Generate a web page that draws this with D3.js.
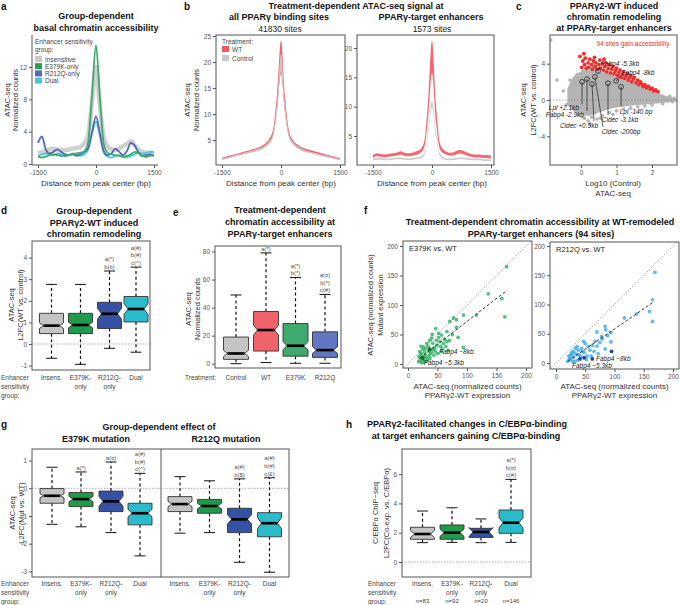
<!DOCTYPE html>
<html><head><meta charset="utf-8">
<script src="https://cdn.jsdelivr.net/npm/d3@7"></script>
<style>body{margin:0;background:#fff}svg{display:block}</style>
</head><body><svg id="c" width="680" height="605"></svg>
<script>
// ---------- DATA ----------
const bp = [-1500,-1400,-1300,-1200,-1100,-1000,-900,-800,-700,-600,-500,-400,-300,-200,-100,0,100,200,300,400,500,600,700,800,900,1000,1100,1200,1300,1400,1500];
const aInsens = [1.3,1.5,1.6,1.8,1.9,1.8,1.7,1.7,1.8,1.9,2.0,2.1,2.6,3.6,7.8,12.0,7.2,3.3,2.2,1.8,1.7,1.9,2.2,2.5,2.8,2.3,1.8,1.5,1.4,1.4,1.3];
const aE379K = [0.9,0.8,0.9,1.1,1.2,1.1,1.0,1.0,1.1,1.2,1.3,1.4,1.6,2.8,8.8,14.7,8.2,2.5,1.4,1.2,1.1,1.0,0.9,1.0,1.2,1.5,1.3,1.0,0.9,1.0,1.1];
const aR212Q = [2.6,3.4,1.8,1.3,1.5,1.8,1.5,1.2,1.1,1.2,1.0,1.2,1.5,2.0,4.0,5.9,3.8,1.6,1.1,1.3,1.9,1.5,1.1,1.6,2.6,2.3,1.4,1.0,1.1,1.2,1.0];
const aDual = [1.0,1.2,1.3,1.2,1.1,1.3,1.2,1.0,1.1,1.3,1.2,1.0,1.2,1.8,3.8,5.2,3.5,1.4,0.9,0.8,1.0,1.1,0.9,0.8,1.0,1.2,1.4,1.3,1.4,1.5,1.5];
const aGroups = ["Insensitive","E379K-only","R212Q-only","Dual"];

const bAllWT = [1.4,1.6,1.8,2.0,2.2,2.4,2.6,2.8,3.0,3.2,3.5,4.0,4.8,6.5,12.5,21.0,12.0,6.3,4.6,3.9,3.4,3.1,2.9,2.7,2.5,2.3,2.1,1.9,1.7,1.5,1.4];
const bAllWTsd = [0.2,0.2,0.2,0.2,0.2,0.25,0.25,0.25,0.25,0.3,0.3,0.35,0.4,0.6,1.6,3.2,1.6,0.6,0.4,0.35,0.3,0.3,0.25,0.25,0.25,0.25,0.2,0.2,0.2,0.2,0.2];
const bAllCtl = [1.3,1.5,1.7,1.9,2.1,2.3,2.5,2.7,2.9,3.1,3.3,3.8,4.5,6.0,11.5,19.8,11.2,5.9,4.4,3.7,3.2,2.9,2.7,2.5,2.3,2.1,1.9,1.8,1.6,1.4,1.3];
const bAllCtlsd = [0.15,0.15,0.15,0.15,0.15,0.15,0.15,0.15,0.15,0.2,0.2,0.2,0.25,0.4,0.9,1.8,0.9,0.4,0.25,0.2,0.2,0.2,0.15,0.15,0.15,0.15,0.15,0.15,0.15,0.15,0.15];
const bTgtWT = [1.5,1.8,1.7,1.6,1.7,1.8,1.9,2.1,1.9,1.8,1.9,2.1,2.4,3.5,9.5,18.5,9.0,3.3,2.3,2.0,1.9,2.1,2.3,2.2,1.9,1.7,1.6,1.6,1.5,1.5,1.4];
const bTgtWTsd = [0.25,0.25,0.25,0.25,0.25,0.25,0.25,0.3,0.25,0.25,0.25,0.3,0.3,0.5,1.5,2.8,1.5,0.5,0.3,0.25,0.25,0.3,0.3,0.3,0.25,0.25,0.25,0.25,0.25,0.25,0.25];
const bTgtCtl = [1.0,1.1,1.1,1.0,1.0,1.1,1.2,1.2,1.1,1.0,1.1,1.2,1.3,1.8,5.5,10.4,5.3,1.8,1.2,1.0,1.0,1.1,1.2,1.2,1.1,1.0,1.0,1.0,0.9,0.9,0.9];
const bTgtCtlsd = [0.15,0.15,0.15,0.15,0.15,0.15,0.15,0.15,0.15,0.15,0.15,0.15,0.15,0.2,0.4,0.6,0.4,0.2,0.15,0.15,0.15,0.15,0.15,0.15,0.15,0.15,0.15,0.15,0.15,0.15,0.15];

const cCloudX = [-0.35,-0.2,0,0.2,0.4,0.6,0.8,1.0,1.2,1.4,1.6,1.8,2.0,2.2,2.4,2.6,2.72];
const cCloudHi = [1.2,2.4,3.0,3.2,3.2,3.0,2.8,2.5,2.2,1.85,1.5,1.2,0.85,0.55,0.3,0.12,0];
const cCloudLo = [-0.5,-1.1,-1.5,-1.6,-1.4,-1.1,-0.85,-0.7,-0.6,-0.5,-0.42,-0.36,-0.3,-0.22,-0.15,-0.08,0];
const cGray = [[-0.85,6.6],[-0.68,2.2],[-0.31,2.2],[-0.5,1.0],[-0.4,-0.5],[-0.25,1.6],[-0.2,-0.9],[-0.1,2.8],[-0.05,-1.6],[0.05,3.2],[0.1,-2.0],[0.2,-2.3],[0.3,-1.9],[0.15,3.5],[0.35,3.6],[0.45,-2.1],[0.6,-1.7],[0.7,3.2],[0.8,-1.4],[1.0,-1.2],[1.2,-1.0],[1.4,-0.9],[1.6,-0.75],[1.8,-0.65],[2.0,-0.55],[2.3,-0.4],[2.5,0.4],[2.58,-0.2],[1.3,2.4],[1.7,1.6],[2.1,0.9],[-0.15,-1.2],[2.45,0.1],[-0.3,0.3],[0.05,-1.9],[0.25,-2.6],[0.55,-2.0],[0.9,-1.6],[2.7,-0.05],[2.62,0.2]];
const cRed = [[-0.03,4.8],[0.02,3.6],[0.05,4.3],[0.1,3.9],[0.12,4.6],[0.15,3.5],[0.2,4.1],[0.22,3.6],[0.25,4.5],[0.3,3.9],[0.32,3.4],[0.35,4.3],[0.4,3.7],[0.42,4.1],[0.45,3.4],[0.5,3.9],[0.53,4.4],[0.55,3.5],[0.6,4.0],[0.63,3.3],[0.67,3.7],[0.7,4.1],[0.73,3.1],[0.77,3.5],[0.8,3.9],[0.83,3.0],[0.87,3.4],[0.9,3.7],[0.93,2.9],[0.97,3.2],[1.0,3.5],[1.03,2.7],[1.07,3.0],[1.1,3.3],[1.13,2.5],[1.17,2.8],[1.2,3.1],[1.23,2.4],[1.27,2.7],[1.3,2.9],[1.33,2.2],[1.37,2.5],[1.4,2.7],[1.43,2.0],[1.47,2.3],[1.5,2.5],[1.55,1.9],[1.6,2.2],[1.63,1.7],[1.67,2.0],[1.7,1.8],[1.75,1.5],[1.8,1.7],[1.85,1.35],[1.9,1.5],[1.95,1.2],[2.0,1.3],[2.05,1.0],[2.1,1.1],[2.17,0.9],[0.08,5.1],[0.38,4.7],[0.65,4.5]];
const cGeneNames = ["Lpl +2.1kb","Fabp4 -2.9kb","Cidec +0.9kb","Cidec -200bp","Cidec -3.1kb","Lpl -140 bp","Fabp4 -5.3kb","Fabp4 -8kb"];
const cGeneX = [0.03,0.17,0.31,0.39,0.76,1.13,0.48,0.99];
const cGeneY = [2.0,2.3,1.75,2.55,1.85,1.45,3.2,2.1];

const grpLabels = [["Insens."],["E379K-","only"],["R212Q-","only"],["Dual"]];
const dHi = [2.76,2.76,3.38,3.56];
const dQ3 = [1.42,1.42,1.93,2.2];
const dMed = [0.85,0.88,1.40,1.62];
const dQ1 = [0.48,0.48,0.72,1.02];
const dLo = [-0.66,-0.94,-0.2,-0.38];
const dNotch = [0.13,0.13,0.25,0.25];
const dSig = [[],[],["a(*)","b(¤)"],["a(#)","b(#)","c(^)"]];

const eCats = ["Control","WT","E379K","R212Q"];
const eHi = [49,79,61.5,49.4];
const eQ3 = [19,37.2,28.6,22.7];
const eMed = [7.3,24,12.8,9.7];
const eQ1 = [3.1,9,5.4,4.5];
const eLo = [0,0.8,0.3,0.3];
const eNotch = [2.3,3.5,3.0,2.4];
const eSig = [[],["a(*)"],["a(*)","b(*)"],["a(¤)","b(*)","c(#)"]];

const fE379K = [[167,165],[136,119],[159,111],[164,80],[116,83],[94,83],[77,78],[82,75],[82,62],[71,72],[57,49],[66,55],[54,38],[40,44],[49,32],[66,38],[94,28],[32,35],[26,29],[43,25],[57,21],[68,23],[20,21],[23,15],[20,10],[26,7],[18,4],[22,18],[25,12],[28,20],[30,15],[24,8],[21,5],[27,3],[32,10],[35,22],[38,18],[30,26],[34,30],[42,35],[45,28],[48,40],[52,45],[55,30],[60,35],[62,42],[28,12],[33,6],[36,14],[40,20],[44,15],[25,25],[22,30],[19,13],[23,2],[30,5],[37,9],[46,22],[50,18],[58,26],[64,30],[70,40],[75,50],[85,45],[52,52],[47,60],[37,40],[41,50]];
const fE379Kdark = [[37,25],[25,10]];
const fR212Q = [[169,155],[165,108],[160,88],[165,71],[138,84],[117,77],[84,63],[85,57],[70,53],[94,52],[78,45],[79,41],[94,36],[47,37],[67,37],[70,29],[55,28],[84,24],[58,22],[44,25],[72,16],[53,12],[35,15],[30,10],[28,20],[25,5],[22,12],[38,22],[32,3],[26,16],[20,3],[36,28],[48,18],[62,30],[50,33],[40,14],[45,20],[33,25],[24,9],[29,2],[37,5],[52,6],[60,12],[65,20],[75,35],[88,47],[27,14],[31,18],[23,7],[42,11]];
const fR212Qdark = [[95,20],[62,7],[41,7],[48,9]];
const fFitE379K = [[20,10],[168,125]];
const fFitR212Q = [[20,3],[165,103]];

const gE_Hi = [0.76,0.59,0.95,0.54];
const gE_Q3 = [-0.01,-0.15,-0.1,-0.54];
const gE_Med = [-0.27,-0.39,-0.47,-0.9];
const gE_Q1 = [-0.54,-0.66,-0.84,-1.32];
const gE_Lo = [-1.3,-1.39,-1.6,-2.44];
const gE_Notch = [0.07,0.1,0.18,0.14];
const gE_Sig = [[],["a(*)"],["a(¤)"],["a(#)","b(#)","c(^)"]];
const gR_Hi = [0.42,0.27,0.34,0.38];
const gR_Q3 = [-0.3,-0.4,-0.72,-0.88];
const gR_Med = [-0.57,-0.64,-1.12,-1.26];
const gR_Q1 = [-0.84,-0.9,-1.6,-1.75];
const gR_Lo = [-1.62,-1.6,-2.67,-3.03];
const gR_Notch = [0.1,0.1,0.17,0.2];
const gR_Sig = [[],[],["a(#)","b($)"],["a(#)","b(#)","c(£)"]];

const hHi = [3.48,3.7,2.94,5.64];
const hQ3 = [2.37,2.53,2.3,3.55];
const hMed = [1.91,2.0,2.05,2.68];
const hQ1 = [1.55,1.55,1.68,1.96];
const hLo = [1.32,1.34,1.32,1.34];
const hNotch = [0.25,0.25,0.3,0.35];
const hN = ["n=83","n=92","n=20","n=146"];
const hSig = [[],[],[],["a(*)","b(¤)","c(#)"]];

// ---------- HELPERS ----------
const F = '"Liberation Sans", Arial, Helvetica, sans-serif';
const svg = d3.select('#c').attr('font-family', F);
const C = {gray:'#c4c4c4', green:'#1f9a4b', blue:'#3551a6', cyan:'#2bbccb', red:'#f0636b',
  egreen:'#3faa6d', eblue:'#6277c3'};

function T(g,x,y,s,o={}){
  const e=g.append('text').attr('x',x).attr('y',y).text(s)
    .attr('font-size',o.size||6.5).attr('fill',o.fill||'#333')
    .attr('text-anchor',o.anchor||'middle').attr('dominant-baseline','central');
  if(o.weight) e.attr('font-weight',o.weight);
  if(o.italic) e.attr('font-style','italic');
  if(o.rot) e.attr('transform',`rotate(-90,${x},${y})`);
  return e;
}
function frame(g,x0,y0,x1,y1){
  g.append('rect').attr('x',x0).attr('y',y0).attr('width',x1-x0).attr('height',y1-y0)
   .attr('fill','none').attr('stroke','#555').attr('stroke-width',1);
}
function sty(a){
  a.select('.domain').remove();
  a.attr('font-family',F).attr('font-size',6.5);
  a.selectAll('line').attr('stroke','#555');
  a.selectAll('text').attr('fill','#555');
}
function axL(g,s,ticks,x){ const a=g.append('g').attr('transform',`translate(${x},0)`).call(d3.axisLeft(s).tickValues(ticks).tickSize(3).tickPadding(2).tickFormat(d=>String(d))); sty(a); }
function axB(g,s,ticks,y){ const a=g.append('g').attr('transform',`translate(0,${y})`).call(d3.axisBottom(s).tickValues(ticks).tickSize(3).tickPadding(2).tickFormat(d=>String(d))); sty(a); }
function hdash(g,x0,x1,y){ g.append('line').attr('x1',x0).attr('x2',x1).attr('y1',y).attr('y2',y).attr('stroke','#888').attr('stroke-width',0.7).attr('stroke-dasharray','1.5,1.5'); }
function letter(x,y,s){ T(svg,x,y,s,{size:10,weight:'bold',anchor:'start',fill:'#111'}); }
function title(x,ys,lines){ lines.forEach((l,i)=>T(svg,x,ys[i],l,{size:9,weight:'bold',fill:'#111'})); }

function boxes(g,xs,y,lo,q1,med,q3,hi,notch,cols,w,sig){
  xs.forEach((x,i)=>{
    const hw=w/2, ins=4;
    const dl=(a,b)=>g.append('line').attr('x1',x).attr('x2',x).attr('y1',y(a)).attr('y2',y(b))
      .attr('stroke','#111').attr('stroke-width',1.2).attr('stroke-dasharray','3,2.6');
    dl(q3[i],hi[i]); dl(q1[i],lo[i]);
    [hi[i],lo[i]].forEach(v=>g.append('line').attr('x1',x-5.5).attr('x2',x+5.5).attr('y1',y(v)).attr('y2',y(v)).attr('stroke','#111').attr('stroke-width',1));
    const nh=y(med[i]+notch[i]), nl=y(med[i]-notch[i]), m=y(med[i]);
    const pts=[[x-hw,y(q3[i])],[x+hw,y(q3[i])],[x+hw,nh],[x+hw-ins,m],[x+hw,nl],[x+hw,y(q1[i])],
      [x-hw,y(q1[i])],[x-hw,nl],[x-hw+ins,m],[x-hw,nh]];
    g.append('path').attr('d','M'+pts.map(p=>p.join(',')).join('L')+'Z')
      .attr('fill',cols[i]).attr('stroke','#333').attr('stroke-width',0.9);
    g.append('line').attr('x1',x-hw+ins).attr('x2',x+hw-ins).attr('y1',m).attr('y2',m).attr('stroke','#000').attr('stroke-width',2.6);
    const s=sig[i]; const top=y(hi[i]);
    s.forEach((t,j)=>T(g,x,top-4-(s.length-1-j)*7.8,t,{size:6,fill:'#555'}));
  });
}

// ---------- PANEL A ----------
{
  const g=svg.append('g');
  letter(1,6,'a');
  title(96,[16,27.5],['Group-dependent','basal chromatin accessibility']);
  const x=d3.scaleLinear().domain([-1500,1500]).range([38,154]);
  const y=d3.scaleLinear().domain([0,12]).range([164,67]);
  g.append('path').attr('d','M32,35V165H158').attr('fill','none').attr('stroke','#555');
  axL(g,y,[0,4,8,12],32); axB(g,x,[-1500,0,1500],165);
  const line=d3.line().x((d,i)=>x(bp[i])).y(d=>y(d)).curve(d3.curveMonotoneX);
  g.append('path').attr('d',line(aInsens)).attr('fill','none').attr('stroke','#d0d0d0').attr('stroke-width',4.5);
  [[aDual,'#43c9d6'],[aR212Q,'#5866b8'],[aE379K,'#3dab6b']].forEach(([d,c])=>
    g.append('path').attr('d',line(d)).attr('fill','none').attr('stroke',c).attr('stroke-width',1.8));
  T(g,35,41,'Enhancer sensitivity',{anchor:'start',fill:'#444'});
  T(g,35,49,'group:',{anchor:'start',fill:'#444'});
  const lc=['#c9c9c9','#2a9d55','#5866b8','#43c9d6'];
  aGroups.forEach((n,i)=>{ g.append('rect').attr('x',35).attr('y',56+i*7.2).attr('width',7).attr('height',6).attr('fill',lc[i]);
    T(g,45,59+i*7.2,n,{anchor:'start',fill:'#444'}); });
  T(g,7,100,'ATAC-seq',{size:7.5,rot:true}); T(g,15.5,100,'Normalized counts',{size:7.5,rot:true});
  T(g,96,183,'Distance from peak center (bp)',{size:8});
}

// ---------- PANEL B ----------
{
  const g=svg.append('g');
  letter(184,6,'b');
  T(svg,356,5.5,'Treatment-dependent ATAC-seq signal at',{size:9,weight:'bold',fill:'#111'});
  T(svg,279,17,'all PPARγ binding sites',{size:9,weight:'bold',fill:'#111'});
  T(svg,280,29,'41830 sites',{size:8.5,fill:'#222'});
  T(svg,431,17,'PPARγ-target enhancers',{size:9,weight:'bold',fill:'#111'});
  T(svg,432,29,'1573 sites',{size:8.5,fill:'#222'});
  const mk=(x0,x1,xr,yd,yr,yt,wt,wsd,ct,csd)=>{
    const x=d3.scaleLinear().domain([-1500,1500]).range(xr);
    const y=d3.scaleLinear().domain(yd).range(yr);
    frame(g,x0,35,x1,165);
    axL(g,y,yt,x0); axB(g,x,[-1500,0,1500],165);
    const area=(m,s)=>d3.area().x((d,i)=>x(bp[i])).y0((d,i)=>y(m[i]-s[i])).y1((d,i)=>y(m[i]+s[i])).curve(d3.curveMonotoneX)(m);
    g.append('path').attr('d',area(wt,wsd)).attr('fill','#f0585f').attr('opacity',0.9);
    g.append('path').attr('d',area(ct,csd)).attr('fill','#c8c8c8').attr('opacity',0.95);
    T(g,(xr[0]+xr[1])/2,183,'Distance from peak center (bp)',{size:8});
  };
  mk(216,345,[222,340],[5,25],[140,36],[5,10,15,20,25],bAllWT,bAllWTsd,bAllCtl,bAllCtlsd);
  mk(357,494,[373,491],[5,20],[136,48],[5,10,15,20],bTgtWT,bTgtWTsd,bTgtCtl,bTgtCtlsd);
  T(g,222,41,'Treatment:',{anchor:'start',fill:'#444'});
  g.append('rect').attr('x',222).attr('y',46).attr('width',7).attr('height',6).attr('fill','#f0585f');
  T(g,232,49,'WT',{anchor:'start',fill:'#444'});
  g.append('rect').attr('x',222).attr('y',55).attr('width',7).attr('height',6).attr('fill','#c8c8c8');
  T(g,232,58,'Control',{anchor:'start',fill:'#444'});
  T(g,187,100,'ATAC-seq',{size:7.5,rot:true}); T(g,196,100,'Normalized counts',{size:7.5,rot:true});
}

// ---------- PANEL C ----------
{
  const g=svg.append('g');
  letter(516,6,'c');
  title(614,[6,17,28],['PPARγ2-WT induced','chromatin remodeling','at PPARγ-target enhancers']);
  const x=d3.scaleLinear().domain([0,2]).range([581,652]);
  const y=d3.scaleLinear().domain([-4,4]).range([136.3,63.7]);
  g.append('clipPath').attr('id','cclip').append('rect').attr('x',550).attr('y',35).attr('width',127).attr('height',130);
  const p=g.append('g').attr('clip-path','url(#cclip)');
  p.append('path').attr('d',d3.area().x((d,i)=>x(cCloudX[i])).y0((d,i)=>y(cCloudLo[i])).y1((d,i)=>y(cCloudHi[i])).curve(d3.curveMonotoneX)(cCloudX))
    .attr('fill','#b4b4b4').attr('stroke','#b4b4b4').attr('stroke-width',2.5);
  p.selectAll('.gp').data(cGray).join('circle').attr('cx',d=>x(d[0])).attr('cy',d=>y(d[1])).attr('r',1.8).attr('fill','#b4b4b4');
  hdash(p,550,677,y(0));
  p.selectAll('.rp').data(cRed).join('circle').attr('cx',d=>x(d[0])).attr('cy',d=>y(d[1])).attr('r',1.9).attr('fill','#f22a2a');
  frame(g,550,35,677,165);
  axL(g,y,[-4,0,4],550); axB(g,x,[0,1,2],165);
  const lab=[[579,107,'end',[582,104]],[584,114,'end',[587,111]],[598,125,'end',[594,121]],[621,131,'middle',[603,127]],
             [620,119,'middle',[608,115]],[636,111,'middle',[621,106]],[620,63,'middle',[600,67]],[638,72,'middle',[621,75]]];
  cGeneNames.forEach((n,i)=>{
    const px=x(cGeneX[i]), py=y(cGeneY[i]); const L=lab[i];
    g.append('line').attr('x1',px).attr('y1',py).attr('x2',L[3][0]).attr('y2',L[3][1]).attr('stroke','#222').attr('stroke-width',0.7);
    g.append('circle').attr('cx',px).attr('cy',py).attr('r',2.4).attr('fill','none').attr('stroke','#222').attr('stroke-width',0.8);
    T(g,L[0],L[1],n,{anchor:L[2],italic:true,fill:'#222',size:6.5});
  });
  T(g,633,43,'94 sites gain accessibility',{fill:'#f22a2a',size:6.5});
  T(g,523,100,'ATAC-seq',{size:7.5,rot:true}); T(g,533,100,'L2FC(WT vs. control)',{size:7.5,rot:true});
  T(g,613,183,'Log10 (Control)',{size:8}); T(g,613,193,'ATAC-seq',{size:8});
}

// ---------- PANEL D ----------
{
  const g=svg.append('g');
  letter(1,210,'d');
  title(94,[211,222.5,234],['Group-dependent','PPARγ2-WT induced','chromatin remodeling']);
  const y=d3.scaleLinear().domain([0,4]).range([344,257.6]);
  const xs=[51.5,80.5,109.5,136];
  hdash(g,32,150,y(0));
  boxes(g,xs,y,dLo,dQ1,dMed,dQ3,dHi,dNotch,[C.gray,C.green,C.blue,C.cyan],24,dSig);
  frame(g,32,241,150,370);
  axL(g,y,[-1,0,1,2,3,4],32);
  T(g,11,305,'ATAC-seq',{size:7.5,rot:true}); T(g,20,305,'L2FC(WT vs. control)',{size:7.5,rot:true});
  ['Enhancer','sensitivity','group:'].forEach((s,i)=>T(g,1,377+i*9,s,{anchor:'start',fill:'#444'}));
  grpLabels.forEach((l,i)=>l.forEach((s,j)=>T(g,xs[i],377+j*9,s,{fill:'#444'})));
}

// ---------- PANEL E ----------
{
  const g=svg.append('g');
  letter(173,212,'e');
  title(280,[210,222.3,234.3],['Treatment-dependent','chromatin accessibility at','PPARγ-target enhancers']);
  const y=d3.scaleLinear().domain([0,80]).range([363.7,251.5]);
  const xs=[236,266,295.5,325];
  boxes(g,xs,y,eLo,eQ1,eMed,eQ3,eHi,eNotch,[C.gray,C.red,C.egreen,C.eblue],25,eSig);
  frame(g,215,246,341,368);
  axL(g,y,[0,20,40,60,80],215);
  T(g,188,309,'ATAC-seq',{size:7.5,rot:true}); T(g,197,309,'Normalized counts',{size:7.5,rot:true});
  T(g,185,377,'Treatment:',{anchor:'start',fill:'#444'});
  eCats.forEach((c,i)=>T(g,xs[i],377,c,{fill:'#444'}));
}

// ---------- PANEL F ----------
{
  const g=svg.append('g');
  letter(364,210,'f');
  T(svg,540,222,'Treatment-dependent chromatin accessibility at WT-remodeled',{size:9,weight:'bold',fill:'#111'});
  T(svg,541,234,'PPARγ-target enhancers (94 sites)',{size:9,weight:'bold',fill:'#111'});
  const mk=(x0,x1,y0,y1,xr,yr,pts,dark,fit,col,dcol,name,labs)=>{
    const x=d3.scaleLinear().domain([0,200]).range(xr);
    const y=d3.scaleLinear().domain([0,200]).range(yr);
    const id='fc'+x0;
    g.append('clipPath').attr('id',id).append('rect').attr('x',x0).attr('y',y0).attr('width',x1-x0).attr('height',y1-y0);
    const p=g.append('g').attr('clip-path',`url(#${id})`);
    p.append('line').attr('x1',x(-15)).attr('y1',y(-15)).attr('x2',x(215)).attr('y2',y(215)).attr('stroke','#888').attr('stroke-width',0.7).attr('stroke-dasharray','1.5,1.5');
    p.selectAll('.pt').data(pts).join('circle').attr('cx',d=>x(d[0])).attr('cy',d=>y(d[1])).attr('r',1.9).attr('fill',col).attr('opacity',0.85);
    p.selectAll('.dk').data(dark).join('circle').attr('cx',d=>x(d[0])).attr('cy',d=>y(d[1])).attr('r',1.9).attr('fill',dcol);
    p.append('line').attr('x1',x(fit[0][0])).attr('y1',y(fit[0][1])).attr('x2',x(fit[1][0])).attr('y2',y(fit[1][1])).attr('stroke','#222').attr('stroke-width',0.9).attr('stroke-dasharray','3,2');
    frame(g,x0,y0,x1,y1);
    axL(g,y,[0,50,100,150,200],x0); axB(g,x,[0,50,100,150,200],y1);
    T(g,x0+6,y0+7,name,{anchor:'start',size:7.5,fill:'#222'});
    labs.forEach(l=>T(g,l[0],l[1],l[2],{anchor:'start',italic:true,size:6.5,fill:'#222'}));
    T(g,(x0+x1)/2,386,'ATAC-seq (normalized counts)',{size:8});
    T(g,(x0+x1)/2,395.5,'PPARγ2-WT expression',{size:8});
  };
  mk(403,532,241,368,[408,526],[364,246],fE379K,fE379Kdark,fFitE379K,'#3cb46a','#0f6a2e','E379K vs. WT',[[439,351,'Fabp4 −8kb'],[424,362.5,'Fabp4 −5.3kb']]);
  mk(550,679,242,369,[556,673],[363,246],fR212Q,fR212Qdark,fFitR212Q,'#46aee4','#23409a','R212Q vs. WT',[[596,358,'Fabp4 −8kb'],[572,365.5,'Fabp4 −5.3kb']]);
  T(g,370,305,'ATAC-seq (normalized counts)',{size:7.5,rot:true}); T(g,380,305,'Mutant expression',{size:7.5,rot:true});
}

// ---------- PANEL G ----------
{
  const g=svg.append('g');
  letter(1,424,'g');
  T(svg,159,427,'Group-dependent effect of',{size:9,weight:'bold',fill:'#111'});
  T(svg,96,439,'E379K mutation',{size:9,weight:'bold',fill:'#111'});
  T(svg,226,439,'R212Q mutation',{size:9,weight:'bold',fill:'#111'});
  const y=d3.scaleLinear().domain([0,1]).range([488.3,460.6]);
  const xl=[52,81,111,140], xr=[180,209.5,239.5,269.5];
  hdash(g,32,289,y(0));
  boxes(g,xl,y,gE_Lo,gE_Q1,gE_Med,gE_Q3,gE_Hi,gE_Notch,[C.gray,C.green,C.blue,C.cyan],24,gE_Sig);
  boxes(g,xr,y,gR_Lo,gR_Q1,gR_Med,gR_Q3,gR_Hi,gR_Notch,[C.gray,C.green,C.blue,C.cyan],24,gR_Sig);
  frame(g,32,449,289,577);
  g.append('line').attr('x1',161).attr('x2',161).attr('y1',449).attr('y2',577).attr('stroke','#555');
  axL(g,y,[-3,-2,-1,0,1],32);
  T(g,12,513,'ATAC-seq',{size:7.5,rot:true}); T(g,21,513,'L2FC(Mut vs. WT)',{size:7.5,rot:true});
  ['Enhancer','sensitivity','group:'].forEach((s,i)=>T(g,1,583+i*9,s,{anchor:'start',fill:'#444'}));
  [xl,xr].forEach(xs=>grpLabels.forEach((l,i)=>l.forEach((s,j)=>T(g,xs[i],583+j*9,s,{fill:'#444'}))));
}

// ---------- PANEL H ----------
{
  const g=svg.append('g');
  letter(346,424,'h');
  T(svg,467,424,'PPARγ2-facilitated changes in C/EBPα-binding',{size:9,weight:'bold',fill:'#111'});
  T(svg,466,436,'at target enhancers gaining C/EBPα-binding',{size:9,weight:'bold',fill:'#111'});
  const y=d3.scaleLinear().domain([0,2]).range([562,532.7]);
  const xs=[422.5,452,481,511];
  hdash(g,402,531,y(0));
  boxes(g,xs,y,hLo,hQ1,hMed,hQ3,hHi,hNotch,[C.gray,C.green,C.blue,C.cyan],24,hSig);
  frame(g,402,449,531,577);
  axL(g,y,[0,2,4,6],402);
  T(g,375,513,'C/EBPα ChIP−seq',{size:7.5,rot:true}); T(g,386,513,'L2FC(Co-exp. vs. C/EBPα)',{size:7.5,rot:true});
  ['Enhancer','sensitivity','group:'].forEach((s,i)=>T(g,368,583+i*9,s,{anchor:'start',fill:'#444'}));
  grpLabels.forEach((l,i)=>{ l.forEach((s,j)=>T(g,xs[i],583+j*9,s,{fill:'#444'})); T(g,xs[i],600.5,hN[i],{fill:'#444',size:6}); });
}
</script></body></html>
